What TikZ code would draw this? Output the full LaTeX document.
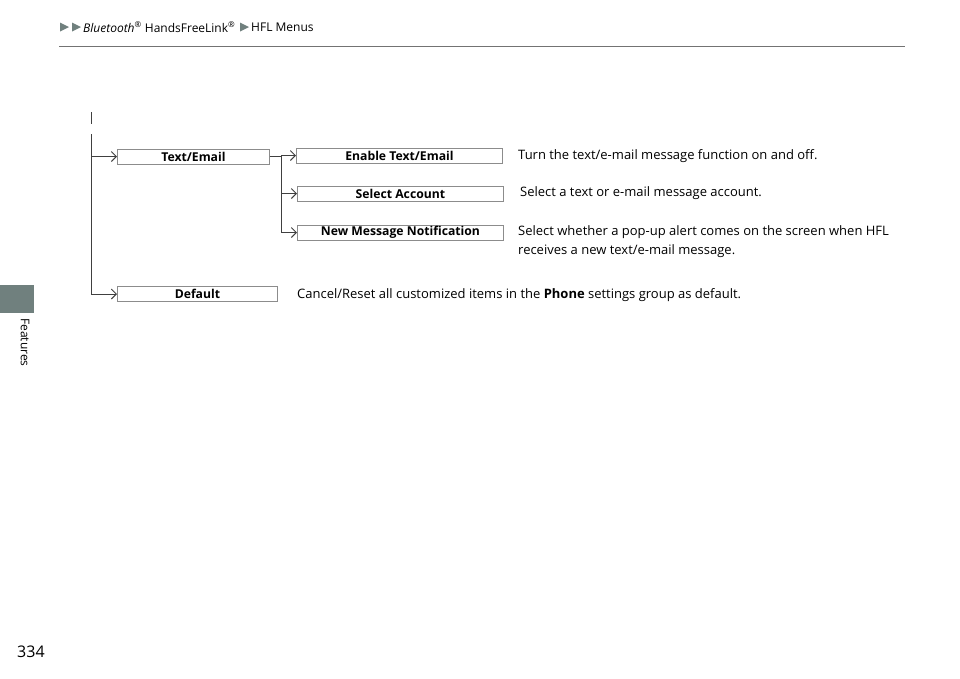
\documentclass[tikz,border=0pt]{standalone}
\usepackage{fontspec}
\setmainfont{Open Sans}
\usetikzlibrary{arrows.meta}
\definecolor{tabgray}{RGB}{112,128,126}

\begin{document}
\begin{tikzpicture}[
  x=1pt, y=-1pt,
  item/.style={draw=black!45, fill=white, line width=0.9pt, minimum height=15pt, inner sep=0pt,
    font=\fontsize{12.2}{14}\selectfont\bfseries, anchor=west},
  desc/.style={font=\fontsize{13}{19}\selectfont, anchor=west, align=left, inner sep=0pt},
  trunk/.style={draw=black!75, line width=0.9pt},
  link/.style={trunk, -{Straight Barb[length=5pt,width=10pt]}},
  crumb/.style={font=\fontsize{12}{14}\selectfont, anchor=west, inner sep=0pt}]
  \useasboundingbox (0,0) rectangle (960,678);
  % Header
  \fill[tabgray] (60,22.5) -- (69,27) -- (60,31.5) -- cycle;
  \fill[tabgray] (72,22.5) -- (81,27) -- (72,31.5) -- cycle;
  \node[crumb] (path) at (83,27) {\textit{Bluetooth}\textsuperscript{®} HandsFreeLink\textsuperscript{®}};
  \fill[tabgray] (240,22.5) -- (249,27) -- (240,31.5) -- cycle;
  \node[crumb] (menus) at (251,27) {HFL Menus};
  \draw[black!55, line width=1pt] (59,46) -- (905,46);
  % Side tab and page number
  \fill[tabgray] (0,285) rectangle (34,313);
  \node[crumb, rotate=-90] (side) at (25,318) {Features};
  \node[crumb, font=\fontsize{16}{18}\selectfont] (page) at (17,652) {334};
  % Menu tree
  \coordinate (tick) at (91,112);
  \coordinate (tickend) at (91,124);
  \coordinate (top) at (91,134);
  \draw[trunk] (tick) -- (tickend);
  \node[item, minimum width=152pt] (text) at (117,156.5) {Text/Email};
  \node[item, minimum width=206pt] (enable) at (296,155.5) {Enable Text/Email};
  \node[item, minimum width=206pt] (account) at (297,193.5) {Select Account};
  \node[item, minimum width=206pt] (notify) at (297,232.5) {New Message Notification};
  \node[item, minimum width=160pt] (default) at (117,294) {Default};
  \draw[link] (top) |- (text.west);
  \draw[link] (top) |- (default.west);
  \coordinate (fork) at (281,155.5);
  \draw[trunk] (text.east) -- (text.east -| fork);
  \draw[link] (fork) -- (enable.west);
  \draw[link] (fork) |- (account.west);
  \draw[link] (fork) |- (notify.west);
  % Descriptions
  \node[desc] (d1) at (518,156) {Turn the text/e-mail message function on and off.};
  \node[desc] (d2) at (520,193) {Select a text or e-mail message account.};
  \node[desc] (d3) at (518,241.5) {Select whether a pop-up alert comes on the screen when HFL\\receives a new text/e-mail message.};
  \node[desc] (d4) at (297,295) {Cancel/Reset all customized items in the \textbf{Phone} settings group as default.};
\end{tikzpicture}
\end{document}
